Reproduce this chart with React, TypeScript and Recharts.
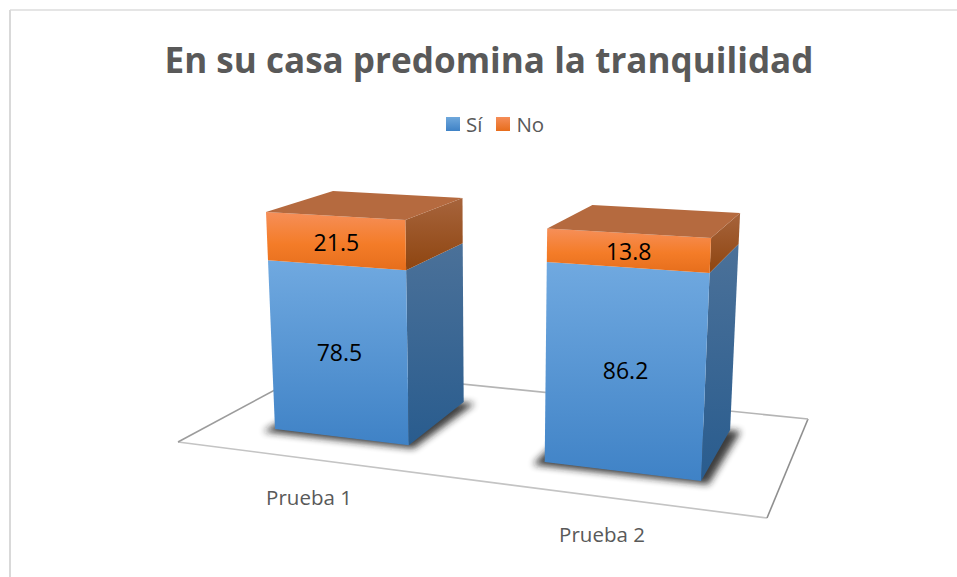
import React from "react";
import { BarChart, Bar, XAxis, YAxis, Legend, LabelList, ReferenceArea } from "recharts";

const categories = ["Prueba 1", "Prueba 2"];
const siValues = [78.5, 86.2];
const noValues = [21.5, 13.8];
const chartData = categories.map((name, i) => ({ name, si: siValues[i], no: noValues[i] }));

const W = 957;
const H = 577;
const AXIS_HEIGHT = 30;
const M = { top: 100, right: 100, bottom: 100 - AXIS_HEIGHT, left: 100 };
const PW = W - M.left - M.right;
const PH = H - M.top - M.bottom - AXIS_HEIGHT;
const CATEGORY_GAP = 0.2425;
const TITLE_COLOR = "#595959";
const FONT = "'Open Sans', sans-serif";

// Camera calibration: where the plot's outer bar edges land on screen, for the front and back planes of the boxes.
type Pt = [number, number];
const NU_MIN = CATEGORY_GAP / 2;
const NU_MAX = 1 - NU_MIN;
const FRONT_PLANE: Pt[] = [[275, 429], [701, 481], [711, 238], [266, 212]];
const BACK_PLANE: Pt[] = [[339, 389], [730, 430], [740, 213], [333, 191]];
const FLOOR: Pt[] = [[178, 442], [767, 518], [808, 419], [314, 369]];
const FLOOR_COLORS = ["#c4c4c4", "#8f8f8f", "#b5b5b5", "#9c9c9c"];
const TICK_ANCHORS: Pt[] = [[309, 497], [602, 534]];

function makeHomography(q: Pt[]) {
  const [[x0, y0], [x1, y1], [x2, y2], [x3, y3]] = q;
  const dx1 = x1 - x2, dx2 = x3 - x2, sx = x0 - x1 + x2 - x3;
  const dy1 = y1 - y2, dy2 = y3 - y2, sy = y0 - y1 + y2 - y3;
  const den = dx1 * dy2 - dx2 * dy1;
  const g = (sx * dy2 - dx2 * sy) / den;
  const h = (dx1 * sy - sx * dy1) / den;
  const a = x1 - x0 + g * x1, b = x3 - x0 + h * x3, c = x0;
  const d = y1 - y0 + g * y1, e = y3 - y0 + h * y3, f = y0;
  return (nu: number, nv: number): Pt => {
    const u = (nu - NU_MIN) / (NU_MAX - NU_MIN);
    const w = g * u + h * nv + 1;
    return [(a * u + b * nv + c) / w, (d * u + e * nv + f) / w];
  };
}
const front = makeHomography(FRONT_PLANE);
const back = makeHomography(BACK_PLANE);

const nuOf = (x: number) => (x - M.left) / PW;
const nvOf = (y: number) => (M.top + PH - y) / PH;
const pts = (list: Pt[]) => list.map((p) => `${p[0].toFixed(1)},${p[1].toFixed(1)}`).join(" ");

function box(props: any) {
  const { x, y, width, height } = props;
  const nuL = nuOf(x), nuR = nuOf(x + width), vT = nvOf(y), vB = nvOf(y + height);
  return {
    fl: front(nuL, vB), fr: front(nuR, vB), tl: front(nuL, vT), tr: front(nuR, vT),
    br: back(nuR, vB), btr: back(nuR, vT), btl: back(nuL, vT), bl: back(nuL, vB),
  };
}

function SiShape(props: any) {
  const b = box(props);
  const foot = [b.fl, b.fr, b.br, b.bl];
  const cx = foot.reduce((s, p) => s + p[0], 0) / 4;
  const cy = foot.reduce((s, p) => s + p[1], 0) / 4;
  const shadow = foot.map((p): Pt => [cx + (p[0] - cx) * 1.12, cy + (p[1] - cy) * 1.04 + 2]);
  return (
    <g>
      <polygon points={pts(shadow)} fill="#1c1c1c" opacity={0.85} filter="url(#soft)" />
      <polygon points={pts([b.tr, b.btr, b.br, b.fr])} fill="url(#siSide)" />
      <polygon points={pts([b.tl, b.tr, b.fr, b.fl])} fill="url(#siFront)" />
    </g>
  );
}

function NoShape(props: any) {
  const b = box(props);
  return (
    <g>
      <polygon points={pts([b.tr, b.btr, b.br, b.fr])} fill="url(#noSide)" />
      <polygon points={pts([b.tl, b.tr, b.fr, b.fl])} fill="url(#noFront)" />
      <polygon points={pts([b.tl, b.btl, b.btr, b.tr])} fill="#b56a3f" />
    </g>
  );
}

function ValueLabel(props: any) {
  const vb = props.viewBox ?? props;
  const b = box(vb);
  const quad = [b.tl, b.tr, b.fr, b.fl];
  const cx = quad.reduce((s, p) => s + p[0], 0) / 4;
  const cy = quad.reduce((s, p) => s + p[1], 0) / 4;
  return (
    <text x={cx} y={cy + 1} textAnchor="middle" dominantBaseline="central" fontFamily={FONT} fontSize={23} fill="#000">
      {props.value}
    </text>
  );
}

function CategoryTick(props: any) {
  const i = props.index ?? 0;
  const [tx, ty] = TICK_ANCHORS[i];
  return (
    <text x={tx} y={ty} textAnchor="middle" dominantBaseline="central" fontFamily={FONT} fontSize={20.5} fill={TITLE_COLOR}>
      {props.payload.value}
    </text>
  );
}

function FloorShape() {
  return (
    <g>
      <polygon points={pts(FLOOR)} fill="#fff" />
      {FLOOR.map((p, i) => {
        const q = FLOOR[(i + 1) % FLOOR.length];
        return <line key={i} x1={p[0]} y1={p[1]} x2={q[0]} y2={q[1]} stroke={FLOOR_COLORS[i]} strokeWidth={1.6} />;
      })}
    </g>
  );
}

const swatches: Record<string, string> = {
  si: "linear-gradient(#6fa8dc,#3f82c6)",
  no: "linear-gradient(#f58d58,#e76d1c)",
};

function LegendContent(props: any) {
  return (
    <div style={{ display: "flex", alignItems: "center", fontFamily: FONT, fontSize: 20.5, color: TITLE_COLOR, lineHeight: "26px" }}>
      {(props.payload ?? []).map((item: any) => (
        <div key={item.dataKey} style={{ display: "flex", alignItems: "center", marginRight: 14 }}>
          <span style={{ width: 14, height: 14, display: "inline-block", background: swatches[item.dataKey], marginRight: 6 }} />
          <span>{item.value}</span>
        </div>
      ))}
    </div>
  );
}

export default function App() {
  return (
    <div style={{ position: "absolute", left: 0, top: 0, width: W, height: H, background: "#fff" }}>
      <BarChart width={W} height={H} data={chartData} margin={M} barCategoryGap={`${CATEGORY_GAP * 100}%`}>
        <defs>
          <linearGradient id="siFront" x1="0" y1="0" x2="0" y2="1">
            <stop offset="0" stopColor="#70a9e0" />
            <stop offset="1" stopColor="#3f82c6" />
          </linearGradient>
          <linearGradient id="siSide" x1="0" y1="0" x2="0" y2="1">
            <stop offset="0" stopColor="#4b7199" />
            <stop offset="1" stopColor="#295c8e" />
          </linearGradient>
          <linearGradient id="noFront" x1="0" y1="0" x2="0" y2="1">
            <stop offset="0" stopColor="#f68f59" />
            <stop offset="0.55" stopColor="#f47c28" />
            <stop offset="1" stopColor="#e66e1c" />
          </linearGradient>
          <linearGradient id="noSide" x1="0" y1="0" x2="0" y2="1">
            <stop offset="0" stopColor="#a7643c" />
            <stop offset="1" stopColor="#8e4510" />
          </linearGradient>
          <filter id="soft" x="-20%" y="-20%" width="140%" height="140%">
            <feGaussianBlur stdDeviation="3.5" />
          </filter>
        </defs>
        <line x1={10} y1={10} x2={W} y2={10} stroke="#dcdcdc" strokeWidth={1.5} />
        <line x1={10} y1={10} x2={10} y2={H} stroke="#d9d9d9" strokeWidth={2} />
        <text x={489} y={59} textAnchor="middle" dominantBaseline="central" fontFamily={FONT} fontWeight={700} fontSize={35.1} fill={TITLE_COLOR}>
          En su casa predomina la tranquilidad
        </text>
        <XAxis dataKey="name" height={AXIS_HEIGHT} axisLine={false} tickLine={false} tick={CategoryTick} interval={0} />
        <YAxis hide domain={[0, 100]} />
        <Legend
          verticalAlign="middle"
          align="center"
          itemSorter={null}
          content={LegendContent}
          wrapperStyle={{ left: 446, top: 111, width: 130 }}
        />
        <ReferenceArea x1={categories[0]} x2={categories[1]} y1={0} y2={100} shape={FloorShape} />
        <Bar dataKey="si" name="Sí" stackId="a" fill="#5b9bd5" isAnimationActive={false} shape={SiShape}>
          <LabelList dataKey="si" content={ValueLabel} />
        </Bar>
        <Bar dataKey="no" name="No" stackId="a" fill="#ed7d31" isAnimationActive={false} shape={NoShape}>
          <LabelList dataKey="no" content={ValueLabel} />
        </Bar>
      </BarChart>
    </div>
  );
}
